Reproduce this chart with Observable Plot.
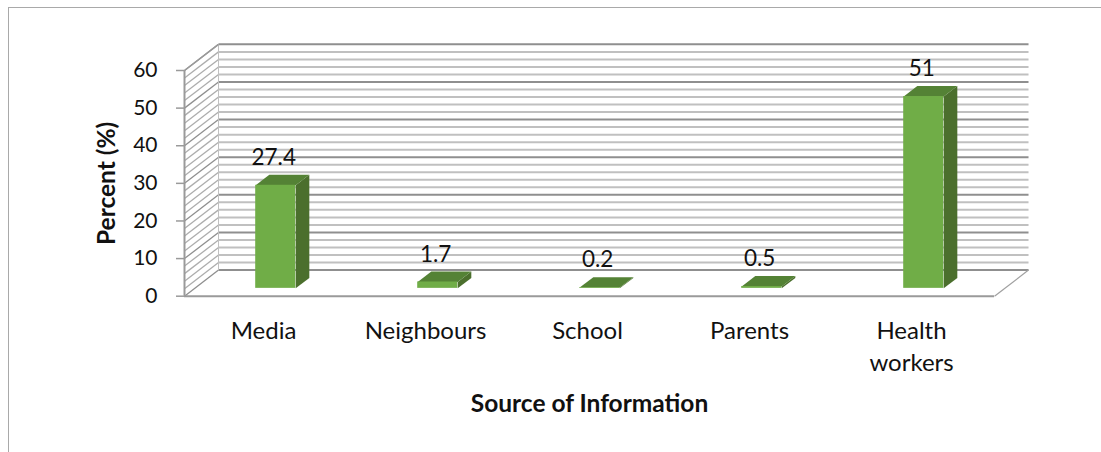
<!DOCTYPE html>
<html>
<head>
<meta charset="utf-8">
<script src="https://cdn.jsdelivr.net/npm/d3@7"></script>
<script src="https://cdn.jsdelivr.net/npm/@observablehq/plot@0.6"></script>
<style>
  html, body { margin: 0; padding: 0; background: #fff; }
  #chart { position: relative; width: 1101px; height: 452px; overflow: hidden; }
  #edge { position: absolute; left: 8px; top: 7px; right: -2px; bottom: -2px;
          border-left: 1px solid #a9a9a9; border-top: 1px solid #a9a9a9; }
  #chart svg { position: absolute; left: 0; top: 0; background: transparent; }
</style>
</head>
<body>
<div id="chart"><div id="edge"></div></div>
<script>
// Percent of respondents by source of information
const categories = ["Media", "Neighbours", "School", "Parents", "Health\nworkers"];
const percents = [27.4, 1.7, 0.2, 0.5, 51];
const majorTicks = [0, 10, 20, 30, 40, 50, 60];
const minorTicks = d3.range(0, 61, 2);

// Oblique projection: a depth of 1 moves a point this far along x and y
const depthX = 0.21;
const depthY = 6.95;
const barFront = 0.3;
const barBack = 0.7;
const barHalf = 0.1235;

const rows = categories.map((name, i) => ({name, value: percents[i], center: i + 0.5}));
const project = (u, v, d) => ({x: u + depthX * d, y: v + depthY * d});

// Side and top faces of each bar as closed outlines
const face = (corners) => rows.flatMap((r) =>
  corners(r).map((p) => ({...project(p[0], p[1], p[2]), name: r.name}))
);
const sideFaces = face((r) => {
  const u = r.center + barHalf;
  return [[u, 0, barFront], [u, 0, barBack], [u, r.value, barBack], [u, r.value, barFront]];
});
const topFaces = face((r) => {
  const a = r.center - barHalf, b = r.center + barHalf;
  return [[a, r.value, barFront], [b, r.value, barFront], [b, r.value, barBack], [a, r.value, barBack]];
});

const wallLine = (v) => project(0, v, 1);
const lineColor = (v) => (v % 10 === 0 ? "#8f8f8f" : "#c0c0c0");
const fontFamily = "Lato, sans-serif";

const plot = Plot.plot({
  width: 1101,
  height: 452,
  marginLeft: 184,
  marginRight: 107,
  marginTop: 70,
  marginBottom: 156.3,
  style: {fontFamily, color: "#111", background: "transparent"},
  x: {domain: [0, 5]},
  y: {domain: [0, 60]},
  marks: [
    // Back wall lines
    Plot.link(minorTicks, {
      x1: (v) => wallLine(v).x, x2: 5 + depthX,
      y1: (v) => wallLine(v).y, y2: (v) => wallLine(v).y,
      stroke: lineColor, strokeWidth: 2
    }),
    // Left wall lines
    Plot.link(minorTicks, {
      x1: 0, y1: (v) => v,
      x2: depthX, y2: (v) => wallLine(v).y,
      stroke: (v) => (v % 10 === 0 ? "#8f8f8f" : "#adadad"), strokeWidth: 1.3
    }),
    Plot.link([0], {x1: depthX, x2: depthX, y1: depthY, y2: 60 + depthY, stroke: "#c0c0c0", strokeWidth: 1}),
    // Floor edges
    Plot.link([0], {x1: 5, y1: 0, x2: 5 + depthX, y2: depthY, stroke: "#a0a0a0", strokeWidth: 1.2}),
    Plot.ruleY([0], {x1: 0, x2: 5, stroke: "#9a9a9a", strokeWidth: 2}),
    Plot.ruleX([0], {y1: 0, y2: 60, stroke: "#9a9a9a", strokeWidth: 2}),
    Plot.link([60], {x1: 0, y1: 60, x2: depthX, y2: 60 + depthY, stroke: "#9a9a9a", strokeWidth: 1.5}),
    // Bars
    Plot.line(sideFaces, {x: "x", y: "y", z: "name", fill: "#4b6f2d", stroke: "none"}),
    Plot.line(topFaces, {x: "x", y: "y", z: "name", fill: "#548235", stroke: "none"}),
    Plot.rect(rows, {
      x1: (r) => project(r.center - barHalf, 0, barFront).x,
      x2: (r) => project(r.center + barHalf, 0, barFront).x,
      y1: () => project(0, 0, barFront).y,
      y2: (r) => project(0, r.value, barFront).y,
      fill: "#70ad47"
    }),
    // Value labels
    Plot.text(rows, {
      x: (r) => project(r.center, 0, barFront).x,
      y: (r) => project(0, r.value, barBack).y,
      text: (r) => String(r.value),
      dx: -2, dy: -17, fontSize: 22.5, fill: "#111"
    }),
    // Axes
    Plot.axisY(majorTicks, {
      tickSize: 8, tickPadding: 19, label: null, fontSize: 21, stroke: "#9a9a9a", strokeWidth: 1.5, color: "#111"
    }),
    Plot.axisX(rows.map((r) => r.center), {
      tickFormat: (c) => categories[c - 0.5], tickSize: 0, tickPadding: 21, dx: -2, label: null,
      fontSize: 24, lineHeight: 1.3, lineAnchor: "top", fill: "#111"
    }),
    Plot.text(["Percent (%)"], {
      frameAnchor: "left", textAnchor: "middle", rotate: -90, dx: -77,
      fontSize: 24.5, fontWeight: 700, fill: "#111"
    }),
    Plot.text(["Source of Information"], {
      frameAnchor: "bottom", dy: 108, lineAnchor: "middle",
      fontSize: 24.5, fontWeight: 700, fill: "#111"
    })
  ]
});

document.getElementById("chart").appendChild(plot);
</script>
</body>
</html>
